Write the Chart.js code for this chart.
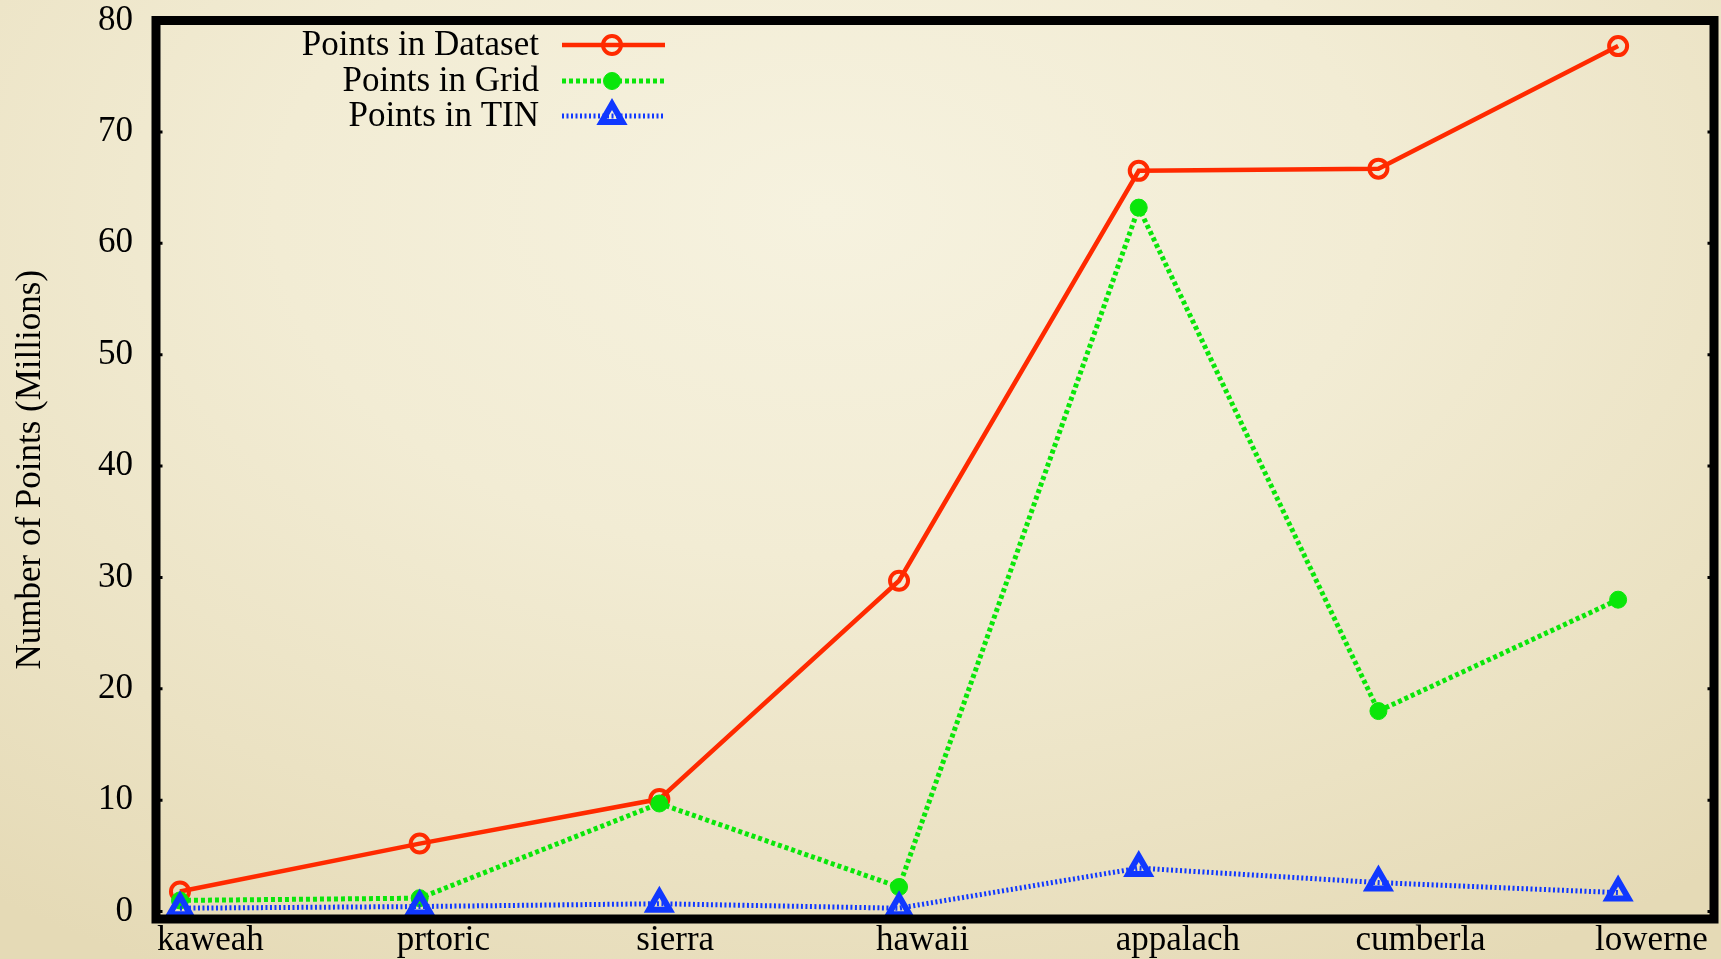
<!DOCTYPE html>
<html>
<head>
<meta charset="utf-8">
<title>Number of Points per Terrain Dataset</title>
<script src="https://cdn.jsdelivr.net/npm/chart.js@4/dist/chart.umd.min.js"></script>
<style>
  html, body { margin: 0; padding: 0; }
  body {
    width: 1721px; height: 959px; overflow: hidden;
    background: radial-gradient(ellipse 80% 90% at 48% 22%, #f6f2df 0%, #f2ecd4 40%, #ebe2c3 75%, #e5dab6 100%);
  }
  #wrap { position: relative; width: 1721px; height: 959px; }
</style>
</head>
<body>
<div id="wrap"><canvas id="chart" width="1721" height="959"></canvas></div>
<script>
// Terrain datasets along the x axis
const categories = ['kaweah', 'prtoric', 'sierra', 'hawaii', 'appalach', 'cumberla', 'lowerne'];

// Point counts in millions
const pointsInDataset = [1.8, 6.1, 10.1, 29.7, 66.5, 66.7, 77.7];
const pointsInGrid    = [1.0, 1.2, 9.7, 2.2, 63.2, 18.0, 28.0];
const pointsInTIN     = [0.3, 0.45, 0.7, 0.3, 3.9, 2.6, 1.7];

const seriesNames = ['Points in Dataset', 'Points in Grid', 'Points in TIN'];
const yTickValues = [0, 10, 20, 30, 40, 50, 60, 70, 80];
const yTitle = 'Number of Points (Millions)';

const SERIF = '"Liberation Serif", "Times New Roman", Times, serif';
const FONT_SIZE = 35;

const toXY = vals => vals.map((v, i) => ({ x: i, y: v }));
const noPadding = () => ({ left: 0, top: 0, right: 0, bottom: 0 });

// Thick black frame around the plot area with small inward tick marks
const framePlugin = {
  id: 'frame',
  afterDatasetsDraw(chart) {
    const { ctx, chartArea: a, scales } = chart;
    ctx.save();
    ctx.strokeStyle = '#000';
    ctx.lineWidth = 9;
    ctx.strokeRect(a.left, a.top, a.right - a.left, a.bottom - a.top);
    ctx.lineWidth = 3;
    ctx.beginPath();
    yTickValues.forEach(v => {
      const py = scales.y.getPixelForValue(v);
      ctx.moveTo(a.left, py); ctx.lineTo(a.left + 6.5, py);
      ctx.moveTo(a.right, py); ctx.lineTo(a.right - 6.5, py);
    });
    ctx.stroke();
    ctx.restore();
  }
};

// Key in the upper-left corner: right-aligned names followed by line samples
const keyPlugin = {
  id: 'key',
  afterDraw(chart) {
    const { ctx } = chart;
    const textRight = 539, lineStart = 562, lineEnd = 665, markX = 612;
    const rows = [45, 81, 116];
    ctx.save();
    ctx.font = FONT_SIZE + 'px ' + SERIF;
    ctx.textAlign = 'right';
    ctx.textBaseline = 'middle';
    chart.data.datasets.forEach((ds, i) => {
      const y = rows[i];
      ctx.fillStyle = '#000';
      ctx.fillText(ds.label, textRight, y + 1);
      ctx.save();
      ctx.strokeStyle = ds.borderColor;
      ctx.lineWidth = ds.borderWidth;
      ctx.setLineDash(ds.borderDash || []);
      ctx.beginPath();
      ctx.moveTo(lineStart, y);
      ctx.lineTo(lineEnd, y);
      ctx.stroke();
      ctx.restore();
      ctx.save();
      ctx.strokeStyle = ds.pointBorderColor;
      ctx.fillStyle = ds.pointBackgroundColor;
      ctx.lineWidth = ds.pointBorderWidth;
      Chart.helpers.drawPoint(ctx, {
        pointStyle: ds.pointStyle,
        radius: ds.pointRadius,
        rotation: 0,
        borderWidth: ds.pointBorderWidth
      }, markX, y);
      ctx.restore();
    });
    ctx.restore();
  }
};

new Chart(document.getElementById('chart'), {
  type: 'line',
  data: {
    datasets: [
      {
        label: seriesNames[0],
        data: toXY(pointsInDataset),
        borderColor: '#ff2a00',
        borderWidth: 4.5,
        pointStyle: 'circle',
        pointRadius: 9,
        pointBorderWidth: 4,
        pointBorderColor: '#ff2a00',
        pointBackgroundColor: 'rgba(0,0,0,0)',
        order: 3
      },
      {
        label: seriesNames[1],
        data: toXY(pointsInGrid),
        borderColor: '#0ae60a',
        borderWidth: 5,
        borderDash: [4, 3],
        pointStyle: 'circle',
        pointRadius: 8.5,
        pointBorderWidth: 1,
        pointBorderColor: '#0ae60a',
        pointBackgroundColor: '#0ae60a',
        order: 2
      },
      {
        label: seriesNames[2],
        data: toXY(pointsInTIN),
        borderColor: '#1038ff',
        borderWidth: 5,
        borderDash: [2, 2.5],
        pointStyle: 'triangle',
        pointRadius: 12,
        pointBorderWidth: 6,
        pointBorderColor: '#1038ff',
        pointBackgroundColor: 'rgba(0,0,0,0)',
        order: 1
      }
    ]
  },
  options: {
    responsive: false,
    animation: false,
    devicePixelRatio: 1,
    clip: false,
    layout: { autoPadding: false, padding: { top: 20.5, right: 7, bottom: 0, left: 0 } },
    elements: { line: { tension: 0, fill: false } },
    plugins: {
      legend: { display: false },
      tooltip: { enabled: false }
    },
    scales: {
      x: {
        type: 'linear',
        min: -0.1,
        max: 6.4,
        grid: { display: false, drawTicks: false },
        border: { display: false },
        afterBuildTicks: s => { s.ticks = categories.map((_, i) => ({ value: i })); },
        afterFit: s => {
          s.height = 40;
          s.paddingLeft = 0;
          s.paddingRight = 0;
          s.getPadding = noPadding;
        },
        ticks: {
          autoSkip: false,
          maxRotation: 0,
          minRotation: 0,
          align: 'start',
          labelOffset: -23,
          padding: 1,
          color: '#000',
          font: { family: SERIF, size: FONT_SIZE },
          callback: v => categories[v]
        }
      },
      y: {
        type: 'linear',
        min: -0.67,
        max: 80,
        grid: { display: false, drawTicks: false },
        border: { display: false },
        afterBuildTicks: s => { s.ticks = yTickValues.map(v => ({ value: v })); },
        afterFit: s => {
          s.width = 156;
          s.paddingTop = 0;
          s.paddingBottom = 0;
          s.getPadding = noPadding;
        },
        ticks: {
          padding: 23,
          color: '#000',
          font: { family: SERIF, size: FONT_SIZE },
          callback: v => String(v)
        },
        title: {
          display: true,
          text: yTitle,
          color: '#000',
          font: { family: SERIF, size: FONT_SIZE },
          padding: { top: 10, bottom: 0 }
        }
      }
    }
  },
  plugins: [framePlugin, keyPlugin]
});
</script>
</body>
</html>
